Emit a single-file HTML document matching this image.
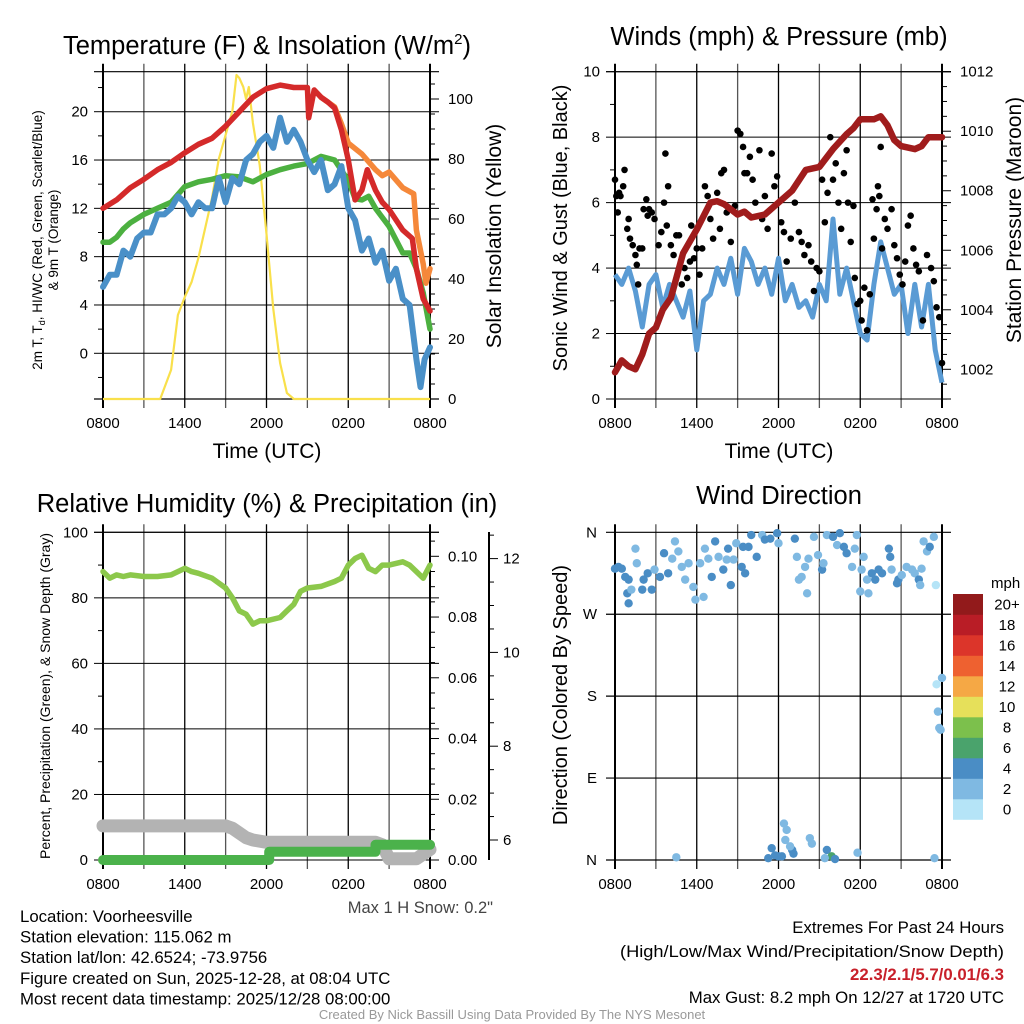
<!DOCTYPE html>
<html><head><meta charset="utf-8"><style>
html,body{margin:0;padding:0;background:#fff;}
svg{display:block;font-family:"Liberation Sans",Arial,sans-serif;}
</style></head><body>
<svg id="fig" width="1024" height="1024" viewBox="0 0 1024 1024" xmlns="http://www.w3.org/2000/svg"></svg>
<script>
// ---------- DATA ----------
const tempHours = [0,1,2,3,4,5,6,7,8,9,10,11,12,13,14,15,15.1,15.5,16,16.5,17,17.5,18,18.5,19,19.4,20,20.5,21,22,22.7,23,23.5,24];
const tempRed   = [12,12.7,13.7,14.4,15.2,15.8,16.6,17.3,17.8,18.8,20,21.2,21.9,22.2,22,22,19.5,21.8,21.2,20.8,20.3,18.5,16,12.7,13.5,15.2,13.5,12.5,11.9,10.2,9.5,7,4.5,3.5];
const orangeHours = [16,17,17.5,18,19,20,20.5,21,22,22.8,23,23.5,23.7,24];
const tempOrange  = [21.2,20.4,19,17.4,16.5,15.2,14.7,15,13.7,13.2,10.2,7.4,5.8,7];
const dewHours = [0,0.5,1,1.5,2,3,4,5,6,7,8,9,10,11,12,13,14,15,16,17,18,18.5,19,19.5,20,21,22,22.5,23,23.5,24];
const dewGreen = [9.2,9.2,9.6,10.3,10.8,11.5,12,12.5,13.8,14.2,14.4,14.7,14.6,14.2,14.8,15.2,15.5,15.7,16.3,16,14.3,12.8,12.7,13,12,10.5,8.3,8.3,7,5,2];
const wcHours = [0,0.5,1,1.5,2,2.5,3,3.5,4,4.5,5,5.5,6,6.5,7,7.5,8,8.5,9,9.5,10,10.5,11,11.5,12,12.5,13,13.5,14,14.5,15,15.5,16,16.5,17,17.5,18,18.5,19,19.5,20,20.5,21,21.5,22,22.5,23,23.3,23.6,24];
const wcBlue = [5.5,6.5,6.5,8.5,8,9.5,10,10,11.5,11.5,12,13,12.5,11.5,12.5,12,12,14.5,12.5,14.5,14,16,16.5,17.5,18,17,19.5,17.5,18.5,17.5,16,15,16,13.5,14,15.5,12,11,8.5,9.5,7.5,8.5,6,7,4.5,4,-0.5,-2.8,-0.5,0.5];
const solarHours = [0,4.2,5,5.5,6,6.5,7,7.5,8,8.5,9,9.5,9.8,10,10.3,10.5,10.7,11,11.5,12,12.5,13,13.5,14,24];
const solarYellow = [0,0,9.7,28,34,39,47,57,67,80,88,96,108,107,104,100,104,92,78,55,30,12,2,0,0];

const pressHours = [0,0.5,1,1.5,2,2.5,3,3.5,4.1,5,6,7,7.5,8,9,9.5,10,11,12,13,14,15,16,17,17.5,18,19,19.5,20,20.5,21,22,22.5,23,24];
const pressure = [1001.9,1002.3,1002.1,1002,1002.5,1003.2,1003.4,1004,1004.4,1005.9,1006.7,1007.6,1007.65,1007.55,1007.2,1007.3,1007.1,1007.2,1007.6,1008,1008.7,1008.8,1009.4,1009.9,1010.1,1010.4,1010.4,1010.5,1010.2,1009.7,1009.5,1009.4,1009.5,1009.8,1009.8];
const windHours = [0,0.5,1,1.5,2,2.5,3,3.5,4,4.5,5,5.5,6,6.5,7,7.5,8,8.5,9,9.5,10,10.5,11,11.5,12,12.5,13,13.5,14,14.5,15,15.5,16,16.5,17,17.5,18,18.5,19,19.5,20,20.5,21,21.5,22,22.5,23,23.5,24];
const windSpeed = [3.8,3.5,4,3.3,2.2,3.5,3.8,2.8,3.5,3,2.5,3.3,1.5,3,3.2,4,3.5,4.3,3.2,4.6,4.2,3.5,4,3.2,4.3,3,3.5,2.8,3,2.5,3.5,3,5.5,3.2,4,3,2,1.8,3.5,4.8,4,3.2,3.5,2,3.5,2.2,3.5,1.5,0.5];
const gustHours = [0,0.1,0.2,0.3,0.4,0.6,0.7,0.9,1,1.1,1.3,1.5,1.6,1.7,1.8,2,2.1,2.3,2.4,2.5,2.7,2.9,3.2,3.4,3.6,3.7,3.8,3.9,4.1,4.3,4.5,4.7,4.9,5.1,5.3,5.5,5.6,5.8,6,6.2,6.4,6.6,6.8,7,7.2,7.5,7.7,7.8,8,8.2,8.5,8.8,9,9.2,9.4,9.5,9.7,9.9,10.1,10.3,10.6,10.8,11,11.2,11.5,11.7,11.9,12.2,12.4,12.6,12.9,13.2,13.5,13.7,13.9,14.2,14.4,14.6,14.8,15,15.2,15.4,15.6,15.8,16,16.2,16.4,16.6,16.8,17,17.1,17.3,17.5,17.6,17.8,18,18.1,18.3,18.5,18.7,18.9,19,19.2,19.3,19.4,19.5,19.6,19.8,20,20.3,20.5,20.7,20.9,21.1,21.3,21.5,21.7,21.9,22.1,22.3,22.6,22.9,23.2,23.4,23.6,23.8,24];
const gustSpeed = [6.7,6.2,5.7,6.3,6.2,6.5,7,5.2,5.5,4.9,4.7,4.4,4.1,3.5,4.6,4.6,5.8,6.1,5.6,5.8,5.7,5.5,4.7,5.1,6,7.5,5.3,6.5,4.7,4.4,5,5,3.5,4,3.7,4.2,5.3,4.3,4.6,3.8,4.6,6.5,6.2,5.5,4.9,6.3,5.2,6.9,7,5.7,4.8,5.9,8.2,8.1,7.7,6.9,6.9,7.4,6.7,6,7.6,5.5,6.2,5.2,7.5,6.5,6.8,5.4,5.1,4.2,4.9,6,5.1,4.8,4.4,4.7,4.2,3.3,4,3.9,6.7,5.4,6.3,8,6.7,7.2,6,5.2,6.9,7.6,6,4.8,5.9,3.7,2.9,3,2.4,3.4,2.1,3.2,6.1,4.9,5.8,6.5,6.2,7.7,4.6,5.5,5.2,5.8,4.7,4.3,3.8,3.5,4.2,5.3,5.6,4.6,4.1,3.9,2.4,4.4,4,3.6,2.8,2.5,1.1];

const rhHours = [0,0.5,1,1.5,2,3,4,5,6,6.5,7,8,9,9.5,10,10.5,11,11.5,12,13,13.5,14,14.5,15,16,17,17.5,18,18.5,19,19.5,20,20.5,21,22,22.5,23,23.5,24];
const rhValues = [88,86,87,86.5,87,86.5,86.5,87,89,88,87.5,86,83,80,76,75,72,73,73,74,76,78,82,83,83.5,85,86,90,92,93,89,88,90,90,91,90,88,86,90];
const snowHours = [0,9,9.5,10,10.5,11,12,20,20.5,21,22,23,24];
const snowDepth = [6.3,6.3,6.25,6.15,6.05,6,5.95,5.95,5.9,5.6,5.6,5.6,5.8];
const precipHours = [0,12.2,12.2,20,20,24];
const precipIn = [0,0,0.0027,0.0027,0.005,0.005];

const dirHours = [0,0.25,0.5,0.75,1,0.9,1,1.2,1.5,1.6,2,2.1,2.4,2.7,2.9,3.3,3.6,3.9,4.2,4.4,4.65,4.9,5.15,5.4,5.75,5.9,6.25,6.5,6.6,6.85,7.1,7.35,7.6,7.95,8.2,8.3,8.5,8.7,8.9,9.3,9.4,9.55,9.8,10,10.4,10.8,11,11.4,11.9,12,13.2,13.35,13.5,13.7,13.95,14.1,14.2,14.6,14.9,15.2,15.3,15.55,16,16.3,16.5,16.8,17,17.4,17.6,17.75,18,18.1,18.25,18.5,18.6,18.85,19.1,19.35,19.6,20.1,20.2,20.3,20.7,20.8,21.05,21.4,21.8,22,22.3,22.4,22.5,22.65,22.9,23.1,23.4,23.55,23.6,24,23.7,23.8,23.9,23.45,4.5,11.25,11.5,11.75,12,12.25,12.4,12.6,12.5,13,13.1,12.85,14.3,14.45,15.55,15.9,15.4,16.15,17.8];
const dirDeg = [320,322,320,311,308,293,282,297,342,326,297,308,315,297,319,311,337,315,331,350,339,322,308,326,300,286,326,289,342,331,311,350,333,319,330,342,302,330,348,322,344,315,344,357,333,357,352,353,359,348,353,333,308,311,322,293,331,355,335,319,326,357,355,346,359,344,337,322,342,357,295,319,333,308,293,315,308,319,315,342,333,319,304,308,313,322,319,315,308,302,320,350,339,344,355,302,193,200,163,145,143,2,3,2,13,5,4,4,40,33,22,11,7,15,24,18,11,4,2,1,8];
const dirSpeed = [5,5,5,5,5,5,5,3,3,3,5,5,5,5,3,5,5,5,3,3,3,3,3,3,3,3,3,3,3,3,5,5,3,5,3,5,5,3,3,5,5,5,5,5,5,3,5,5,5,3,5,3,3,3,3,3,3,3,3,5,3,3,5,3,5,5,5,3,3,3,3,3,3,3,3,5,5,5,5,5,5,3,5,5,3,3,3,3,5,3,3,3,3,5,3,1,1,3,3,3,3,3,3,5,5,5,5,5,3,3,3,5,5,3,3,3,5,7,3,5,3];

const cbLabels = ["0","2","4","6","8","10","12","14","16","18","20+"];
const cbColors = ["#b5e4f7","#7fb9e2","#4a8dc5","#4aa36c","#7cc04c","#e6e05a","#f5a845","#ee6130","#dc352a","#b91d26","#921a1b"];
const timeLabels = ["0800","1400","2000","0200","0800"];

// ---------- HELPERS ----------
const NS = "http://www.w3.org/2000/svg";
const svg = document.getElementById("fig");
const TICK_FS = 15;
const TITLE_FS = 25.5;
function el(tag, attrs, parent){
  const e = document.createElementNS(NS, tag);
  for (const k in attrs) e.setAttribute(k, attrs[k]);
  (parent || svg).appendChild(e);
  return e;
}
function txt(s, attrs, parent){
  const e = el("text", attrs, parent);
  e.textContent = s;
  return e;
}
function scale(d0, d1, r0, r1){ return v => r0 + (v - d0) / (d1 - d0) * (r1 - r0); }
function pathFrom(xs, ys, fx, fy){
  let d = "";
  for (let i = 0; i < xs.length; i++) d += (i ? "L" : "M") + fx(xs[i]).toFixed(1) + "," + fy(ys[i]).toFixed(1);
  return d;
}
function speedColor(s){ let i = Math.floor(s / 2); if (i > 10) i = 10; if (i < 0) i = 0; return cbColors[i]; }

function frame(P, g){
  for (let h = 0; h <= 24; h += 3){
    const x = P.sx(h);
    const gl = el("line", {x1:x, y1:P.yt - 8, x2:x, y2:P.yb + 9, stroke: (h % 6 === 0) ? "#000" : "#555", "stroke-width": (h===0||h===24)?2:1.3}, g);
    
    
  }
  for (let i = 0; i < timeLabels.length; i++){
    const t = txt(timeLabels[i], {x:P.sx(i*6), y:P.yb + 29, "font-size":TICK_FS, "text-anchor":"middle"}, g);
    
    
  }
}
function yAxisLeft(P, g, sy, min, max, major, minor, fmt, grid){
  for (let v = min; v <= max + 1e-9; v += minor){
    const y = sy(v);
    const isMaj = Math.abs(Math.round(v / major) * major - v) < 1e-6;
    const t = el("line", {x1:P.x0 - (isMaj ? 9 : 5), y1:y, x2:P.x0, y2:y, stroke:"#000", "stroke-width":1}, g);
    
    
    if (isMaj){
      if (grid){
        const gl = el("line", {x1:P.x0, y1:y, x2:P.x1 + 9, y2:y, stroke:"#000", "stroke-width":1}, g);
        
        
      }
      const lb = txt(fmt(v), {x:P.x0 - 15, y:y + 5, "font-size":TICK_FS, "text-anchor":"end"}, g);
      
      
    }
  }
}
function yAxisRight(ax, g, sy, min, max, major, minor, fmt, yt, yb, lx){
  const a = el("line", {x1:ax, y1:yt, x2:ax, y2:yb, stroke:"#000", "stroke-width":2}, g);
  
  
  for (let v = min; v <= max + 1e-9; v += minor){
    const y = sy(v);
    if (y < yt - 0.5 || y > yb + 0.5) continue;
    const isMaj = Math.abs(Math.round(v / major) * major - v) < 1e-6;
    const t = el("line", {x1:ax, y1:y, x2:ax + (isMaj ? 9 : 5), y2:y, stroke:"#000", "stroke-width":1}, g);
    
    
    if (isMaj){
      const lb = txt(fmt(v), {x:lx, y:y + 5, "font-size":TICK_FS}, g);
      
      
    }
  }
}
function rotText(s, x, y, size, g){
  return txt(s, {x:0, y:0, "font-size":size, "text-anchor":"middle", transform:"translate(" + x + "," + y + ") rotate(-90)"}, g);
}
function hline(P, y, g){
  return el("line", {x1:P.x0 - 9, y1:y, x2:P.x1 + 9, y2:y, stroke:"#000", "stroke-width":1.2}, g);
}

// ---------- PANEL 1 ----------
{
  const g = el("g", {});
  
  
  const P = {x0:103, x1:430, yt:71.7, yb:399};
  P.sx = scale(0, 24, P.x0, P.x1);
  const sy = scale(0, 20, 353.3, 111.7);
  const sr = scale(0, 100, 399, 99);
  frame(P, g);
  const tl = hline(P, P.yt, g);  
  const bl = hline(P, P.yb, g);  
  yAxisLeft(P, g, sy, -2, 22, 4, 2, v => String(v), true);
  yAxisRight(P.x1, g, sr, 0, 105, 20, 5, v => String(v), P.yt, P.yb, 448);
  const ys = el("path", {d:pathFrom(solarHours, solarYellow, P.sx, sr), fill:"none", stroke:"#f9e04b", "stroke-width":2.2, "stroke-linejoin":"round"}, g);
  
  
  const og = el("path", {d:pathFrom(orangeHours, tempOrange, P.sx, sy), fill:"none", stroke:"#f5883a", "stroke-width":5.5, "stroke-linejoin":"round", "stroke-linecap":"round"}, g);
  
  
  const gr = el("path", {d:pathFrom(dewHours, dewGreen, P.sx, sy), fill:"none", stroke:"#4cb040", "stroke-width":5.5, "stroke-linejoin":"round", "stroke-linecap":"round"}, g);
  
  
  const rd = el("path", {d:pathFrom(tempHours, tempRed, P.sx, sy), fill:"none", stroke:"#d42a2a", "stroke-width":5.5, "stroke-linejoin":"round", "stroke-linecap":"round"}, g);
  
  
  const bl2 = el("path", {d:pathFrom(wcHours, wcBlue, P.sx, sy), fill:"none", stroke:"#4a90c8", "stroke-width":6, "stroke-linejoin":"round", "stroke-linecap":"round"}, g);
  
  
  const t = txt("Temperature (F) & Insolation (W/m", {x:63, y:54, "font-size":TITLE_FS}, g);
  const sup = el("tspan", {dy:-10, "font-size":15}, t); sup.textContent = "2";
  const cl = el("tspan", {dy:10}, t); cl.textContent = ")";
  
  
  const xt = txt("Time (UTC)", {x:267, y:458, "font-size":21, "text-anchor":"middle"}, g);
  
  
  const y1 = rotText("2m T, T", 42, 240, 13.5, g);
  const sb = el("tspan", {dy:3, "font-size":9}, y1); sb.textContent = "d";
  const rest = el("tspan", {dy:-3}, y1); rest.textContent = ", HI/WC (Red, Green, Scarlet/Blue)";
  
  
  const y2 = rotText("& 9m T (Orange)", 58, 240, 13.5, g);
  
  
  const yr = rotText("Solar Insolation (Yellow)", 501, 236, 21, g);
  
  
}

// ---------- PANEL 2 ----------
{
  const g = el("g", {});
  
  
  const P = {x0:615, x1:942, yt:71.7, yb:399};
  P.sx = scale(0, 24, P.x0, P.x1);
  const sy = scale(0, 10, 399, 71.7);
  const sp = scale(1002, 1012, 369.3, 71.7);
  frame(P, g);
  const tl = hline(P, P.yt, g);  
  yAxisLeft(P, g, sy, 0, 10, 2, 1, v => String(v), true);
  yAxisRight(P.x1, g, sp, 1001, 1012, 2, 0.5, v => String(v), P.yt, P.yb, 960);
  const ws = el("path", {d:pathFrom(windHours, windSpeed, P.sx, sy), fill:"none", stroke:"#5a9bd4", "stroke-width":5, "stroke-linejoin":"round"}, g);
  
  
  for (let i = 0; i < gustHours.length; i++){
    const c = el("circle", {cx:P.sx(gustHours[i]), cy:sy(gustSpeed[i]), r:3.3, fill:"#000"}, g);
    
    
  }
  const pr = el("path", {d:pathFrom(pressHours, pressure, P.sx, sp), fill:"none", stroke:"#a01c1c", "stroke-width":6.5, "stroke-linejoin":"round", "stroke-linecap":"round"}, g);
  
  
  const t = txt("Winds (mph) & Pressure (mb)", {x:779, y:45, "font-size":TITLE_FS, "text-anchor":"middle"}, g);
  
  
  const xt = txt("Time (UTC)", {x:779, y:458, "font-size":21, "text-anchor":"middle"}, g);
  
  
  const yl = rotText("Sonic Wind & Gust (Blue, Black)", 567, 228, 20, g);
  
  
  const yr = rotText("Station Pressure (Maroon)", 1021, 220, 21, g);
  
  
}

// ---------- PANEL 3 ----------
{
  const g = el("g", {});
  
  
  const P = {x0:103, x1:430, yt:532.3, yb:860};
  P.sx = scale(0, 24, P.x0, P.x1);
  const sy = scale(0, 100, 860, 532.3);
  const spr = scale(0, 0.1, 860, 556.3);
  const ssn = scale(6, 12, 840, 558.6);
  frame(P, g);
  const tl = hline(P, P.yt, g);  
  yAxisLeft(P, g, sy, 0, 100, 20, 10, v => String(v), true);
  yAxisRight(P.x1, g, spr, 0, 0.105, 0.02, 0.005, v => v.toFixed(2), P.yt, P.yb, 448);
  yAxisRight(489, g, ssn, 6, 12.5, 2, 0.5, v => String(v), 532, 860, 503);
  const sn = el("path", {d:pathFrom(snowHours, snowDepth, P.sx, ssn), fill:"none", stroke:"#b3b3b3", "stroke-width":13, "stroke-linejoin":"round", "stroke-linecap":"round"}, g);
  
  
  const pc = el("path", {d:pathFrom(precipHours, precipIn, P.sx, spr), fill:"none", stroke:"#4bb24b", "stroke-width":10, "stroke-linejoin":"round", "stroke-linecap":"round"}, g);
  
  
  const rh = el("path", {d:pathFrom(rhHours, rhValues, P.sx, sy), fill:"none", stroke:"#8cc84b", "stroke-width":5.5, "stroke-linejoin":"round", "stroke-linecap":"round"}, g);
  
  
  const t = txt("Relative Humidity (%) & Precipitation (in)", {x:267, y:512, "font-size":TITLE_FS, "text-anchor":"middle"}, g);
  
  
  const yl = txt("Percent, Precipitation (Green), & Snow Depth (Gray)", {x:0, y:0, "font-size":14, "text-anchor":"middle", textLength:326, lengthAdjust:"spacingAndGlyphs", transform:"translate(50,696) rotate(-90)"}, g);
  
  
  const ms = txt("Max 1 H Snow: 0.2\"", {x:493, y:913, "font-size":16.5, "text-anchor":"end", fill:"#444"}, g);
  
  
}

// ---------- PANEL 4 ----------
{
  const g = el("g", {});
  
  
  const P = {x0:615, x1:942, yt:532.3, yb:860};
  P.sx = scale(0, 24, P.x0, P.x1);
  const sd = scale(0, 360, 860, 532.3);
  frame(P, g);
  const dirLabels = ["N","E","S","W","N"];
  for (let i = 0; i < 5; i++){
    const y = sd(i * 90);
    const l = hline(P, y, g);
    
    
    const lb = txt(dirLabels[i], {x:597, y:y + 5, "font-size":TICK_FS, "text-anchor":"end"}, g);
    
    
  }
  for (let i = 0; i < dirHours.length; i++){
    const c = el("circle", {cx:P.sx(dirHours[i]), cy:sd(dirDeg[i]), r:4.2, fill:speedColor(dirSpeed[i])}, g);
    
    
  }
  const t = txt("Wind Direction", {x:779, y:504, "font-size":TITLE_FS, "text-anchor":"middle"}, g);
  
  
  const yl = rotText("Direction (Colored By Speed)", 567, 695, 20, g);
  
  
  const cbTop = 594, cbH = 20.5;
  for (let i = 0; i < cbColors.length; i++){
    const y = cbTop + (cbColors.length - 1 - i) * cbH;
    const r = el("rect", {x:953, y:y, width:30, height:cbH + 0.3, fill:cbColors[i]}, g);
    
    
    const lb = txt(cbLabels[i], {x:1007, y:y + cbH/2 + 5, "font-size":TICK_FS, "text-anchor":"middle"}, g);
    
    
  }
  const mph = txt("mph", {x:991, y:588, "font-size":TICK_FS}, g);
  
  
}

// ---------- FOOTER ----------
{
  const FS = 16.8;
  const info = ["Location: Voorheesville","Station elevation: 115.062 m","Station lat/lon: 42.6524; -73.9756","Figure created on Sun, 2025-12-28, at 08:04 UTC","Most recent data timestamp: 2025/12/28 08:00:00"];
  for (let i = 0; i < info.length; i++){
    const t = txt(info[i], {x:20, y:922 + i * 20.6, "font-size":FS});
    
    
  }
  const e1 = txt("Extremes For Past 24 Hours", {x:1004, y:933, "font-size":FS, "text-anchor":"end"});
  
  
  const e2 = txt("(High/Low/Max Wind/Precipitation/Snow Depth)", {x:620, y:957, "font-size":FS, textLength:384, lengthAdjust:"spacingAndGlyphs"});
  
  
  const e3 = txt("22.3/2.1/5.7/0.01/6.3", {x:1004, y:980, "font-size":FS, "font-weight":"bold", fill:"#c8202a", "text-anchor":"end"});
  
  
  const e4 = txt("Max Gust: 8.2 mph On 12/27 at 1720 UTC", {x:1004, y:1003, "font-size":FS, "text-anchor":"end"});
  
  
  const cr = txt("Created By Nick Bassill Using Data Provided By The NYS Mesonet", {x:512, y:1019, "font-size":13, fill:"#999", "text-anchor":"middle"});
  
  
}
</script>
</body></html>
